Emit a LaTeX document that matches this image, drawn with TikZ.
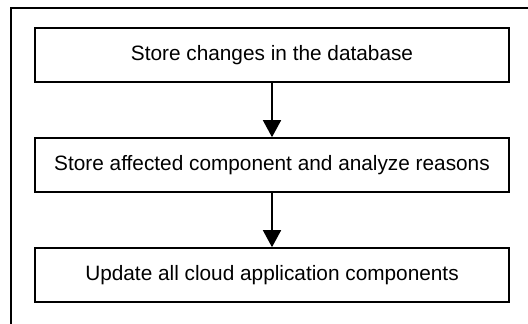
\documentclass[tikz,border=0pt]{standalone}
\usepackage{fontspec}
\setmainfont{Liberation Sans}
\usetikzlibrary{arrows.meta}
\begin{document}
\begin{tikzpicture}[x=1pt,y=1pt,
  stepbox/.style={draw, line width=1.6pt, minimum width=474pt, minimum height=54pt,
    inner sep=0pt, font=\fontsize{20.8}{24}\selectfont},
  flow/.style={line width=1.6pt, -{Triangle[length=17pt,width=18pt]}}]
\useasboundingbox (0,0) rectangle (528,324);
\clip (0,0) rectangle (528,324);
% outer frame, running past the right and bottom edges
\draw[line width=2.6pt] (11,-20) -- (11,316) -- (560,316);
% process steps
\node[stepbox] (b1) at (272,269) {Store changes in the database};
\node[stepbox] (b2) at (272,159) {Store affected component and analyze reasons};
\node[stepbox] (b3) at (272,49) {Update all cloud application components};
% connectors
\draw[flow] (b1) -- (b2);
\draw[flow] (b2) -- (b3);
\end{tikzpicture}
\end{document}
